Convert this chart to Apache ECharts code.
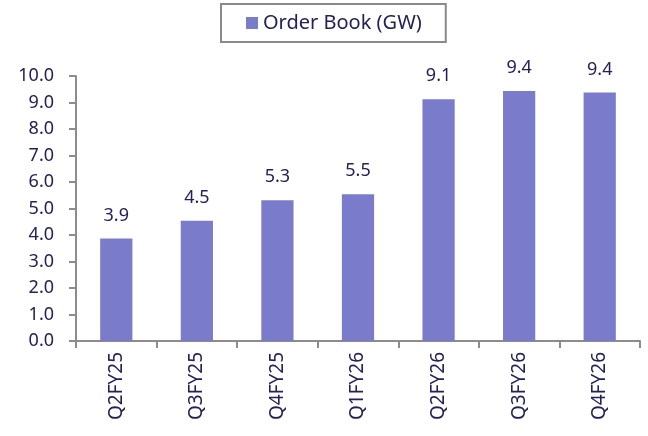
<!DOCTYPE html>
<html>
<head>
<meta charset="utf-8">
<script src="https://cdn.jsdelivr.net/npm/echarts@6/dist/echarts.min.js"></script>
<style>
  html, body { margin: 0; padding: 0; background: #fff; }
  #chart { width: 648px; height: 436px; }
</style>
</head>
<body>
<div id="chart"></div>
<script>
// data
const quarters = ['Q2FY25', 'Q3FY25', 'Q4FY25', 'Q1FY26', 'Q2FY26', 'Q3FY26', 'Q4FY26']
const orderBook = [3.87, 4.54, 5.31, 5.54, 9.12, 9.43, 9.38]
const seriesName = 'Order Book (GW)'

const navy = '#22215a'
const axisGrey = '#8c8c8c'

const chart = echarts.init(document.getElementById('chart'))
chart.setOption({
  animation: false,
  textStyle: { fontFamily: '"Noto Sans", sans-serif' },
  legend: {
    top: 4,
    left: 221,
    padding: [9, 24, 9, 25],
    borderColor: '#8a8a8a',
    borderWidth: 2,
    borderRadius: 0,
    itemWidth: 12,
    itemHeight: 12,
    itemGap: 4,
    icon: 'rect',
    textStyle: { color: navy, fontSize: 20 },
    data: [seriesName]
  },
  grid: {
    left: 76,
    right: 8,
    top: 76,
    bottom: 95
  },
  xAxis: {
    type: 'category',
    data: quarters,
    axisLine: { lineStyle: { color: axisGrey, width: 2 } },
    axisTick: { show: true, length: 7, lineStyle: { color: axisGrey, width: 2 } },
    axisLabel: {
      rotate: 90,
      color: navy,
      fontSize: 19,
      margin: 11
    }
  },
  yAxis: {
    type: 'value',
    min: 0,
    max: 10,
    interval: 1,
    splitLine: { show: false },
    axisLine: { show: true, lineStyle: { color: axisGrey, width: 2 } },
    axisTick: { show: true, length: 7, lineStyle: { color: axisGrey, width: 2 } },
    axisLabel: {
      color: navy,
      fontSize: 18,
      margin: 22,
      formatter: v => v.toFixed(1)
    }
  },
  series: [{
    name: seriesName,
    type: 'bar',
    data: orderBook,
    barWidth: '40%',
    itemStyle: { color: '#7b7bcb' },
    label: {
      show: true,
      position: 'top',
      distance: 14,
      color: navy,
      fontSize: 18,
      formatter: p => p.value.toFixed(1)
    }
  }]
})
</script>
</body>
</html>
